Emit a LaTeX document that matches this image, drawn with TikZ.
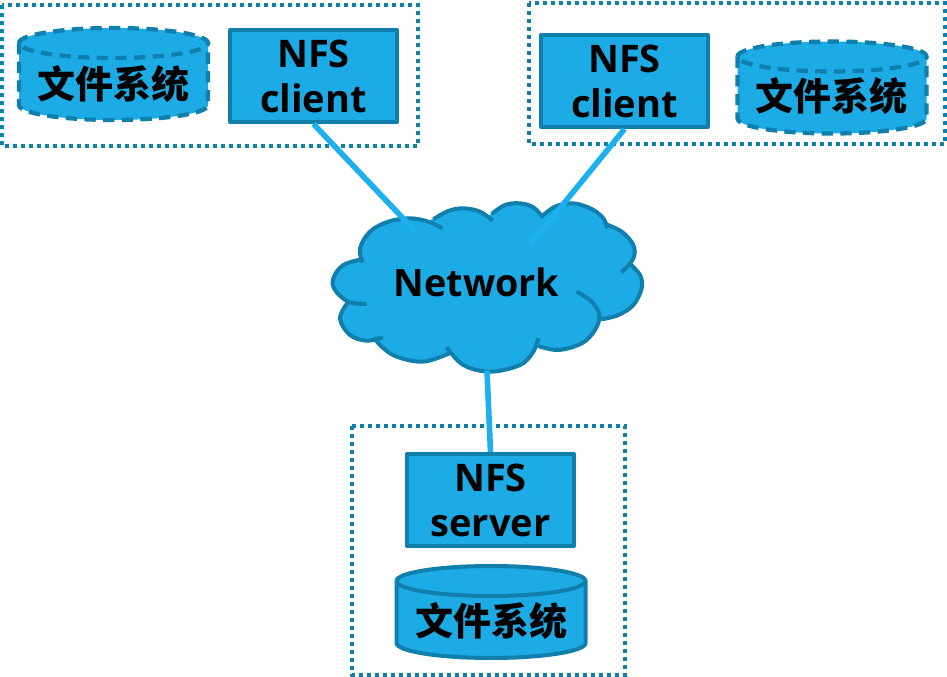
\documentclass[tikz,border=0pt]{standalone}
\usepackage{fontspec}
\setmainfont{Open Sans}
\newfontfamily\cjkfam{Noto Sans CJK SC}
\definecolor{fillblue}{HTML}{1DABE6}
\definecolor{edgeblue}{HTML}{107FAB}
\definecolor{linkblue}{HTML}{1CB0EC}
\newcommand\lobefill[1]{\filldraw[fill=fillblue,draw=fillblue,line width=1.2pt] plot[smooth,tension=0.6] coordinates {#1} -- cycle;}
\newcommand\lobeline[1]{\draw[lobe] plot[smooth,tension=0.6] coordinates {#1};}
\newcommand\alllobes[1]{%
  #1{(128,218)(120,175)(150,125)(205,95)(270,85)(325,95)(367,115)}%
  #1{(340,88)(385,63)(430,55)(480,65)(518,92)}%
  #1{(515,72)(555,45)(600,40)(640,52)(668,82)}%
  #1{(663,82)(705,50)(760,40)(815,57)(850,85)(862,115)}%
  #1{(858,103)(905,125)(940,165)(940,205)(905,247)}%
  #1{(930,222)(960,255)(965,295)(940,345)(895,375)(845,388)}%
  #1{(770,305)(815,335)(838,375)(825,420)(785,460)(715,480)(655,468)}%
  #1{(655,445)(640,485)(600,525)(510,545)(430,525)(380,472)}%
  #1{(388,490)(310,515)(230,500)(185,470)(162,442)}%
  #1{(188,442)(140,452)(90,435)(60,385)(85,335)}%
  #1{(140,342)(85,335)(45,300)(40,265)(70,225)(130,207)}%
}
\tikzset{
  x=0.75pt,y=-0.75pt,
  framebox/.style={draw=edgeblue,line width=3pt,dash pattern=on 3pt off 3pt},
  boxnode/.style={draw=edgeblue,fill=fillblue,line width=3pt,line join=round,minimum width=125.25pt,minimum height=69pt,inner sep=0pt,align=center,font=\bfseries\fontsize{28.5}{33.75}\selectfont},
  link/.style={draw=linkblue,line width=4.2pt},
  lobe/.style={draw=edgeblue,line width=3pt},
  fslabel/.style={inner sep=0pt,font=\cjkfam\bfseries\fontsize{28.5}{33}\selectfont},
  cyl/.style={draw=edgeblue,line width=3pt,line join=round},
  dashcyl/.style={cyl,line width=3.2pt,dash pattern=on 8.5pt off 5.5pt},
  pics/drum/.style={code={
    \fill[fillblue] (-94.5,-31) arc[start angle=180,end angle=360,x radius=94.5,y radius=15] -- (94.5,31) arc[start angle=0,end angle=180,x radius=94.5,y radius=15] -- cycle;
    \draw[#1] (-94.5,-31) arc[start angle=180,end angle=540,x radius=94.5,y radius=15];
    \draw[#1] (-94.5,-31) -- (-94.5,31) arc[start angle=180,end angle=0,x radius=94.5,y radius=15] -- (94.5,-31);
  }}
}
\begin{document}
\begin{tikzpicture}
\useasboundingbox (0,0) rectangle (947,677);
\fill[white] (0,0) rectangle (947,677);
\draw[framebox] (2,5) rectangle (418,146);
\draw[framebox] (529,3) rectangle (945,144);
\draw[framebox] (352,426) rectangle (625,675);

\begin{scope}[shift={(320,190)},x=0.25pt,y=-0.25pt]
  \alllobes\lobefill
  \filldraw[fill=fillblue,draw=fillblue,line width=2.6pt,line join=round] (125,207) -- (345,90) -- (518,80) -- (665,82) -- (860,105) -- (925,225) -- (842,388) -- (655,465) -- (385,485) -- (165,445) -- (85,335) -- cycle;
  \alllobes\lobeline
\end{scope}

\node[boxnode] (c1) at (313.5,76) {NFS\\client};
\node[boxnode] (c2) at (624.5,81) {NFS\\client};
\node[boxnode] (srv) at (490.5,500) {NFS\\server};

\coordinate (netA) at (417,233);
\coordinate (netB) at (530,245);
\coordinate (netC) at (487,371);
\draw[link] (c1.south) -- (netA);
\draw[link] (c2.south) -- (netB);
\draw[link] (netC) -- (srv.north);

\node[inner sep=0pt,font=\bfseries\fontsize{28.3}{34}\selectfont] (net) at (476.5,282) {Network};

\pic at (113.5,74) {drum={dashcyl}};
\pic at (832,87.5) {drum={dashcyl}};
\pic at (491,612) {drum={cyl}};
\node[fslabel] (fs1) at (113.5,84) {文件系统};
\node[fslabel] (fs2) at (831.5,96) {文件系统};
\node[fslabel] (fs3) at (491,621) {文件系统};
\end{tikzpicture}
\end{document}
